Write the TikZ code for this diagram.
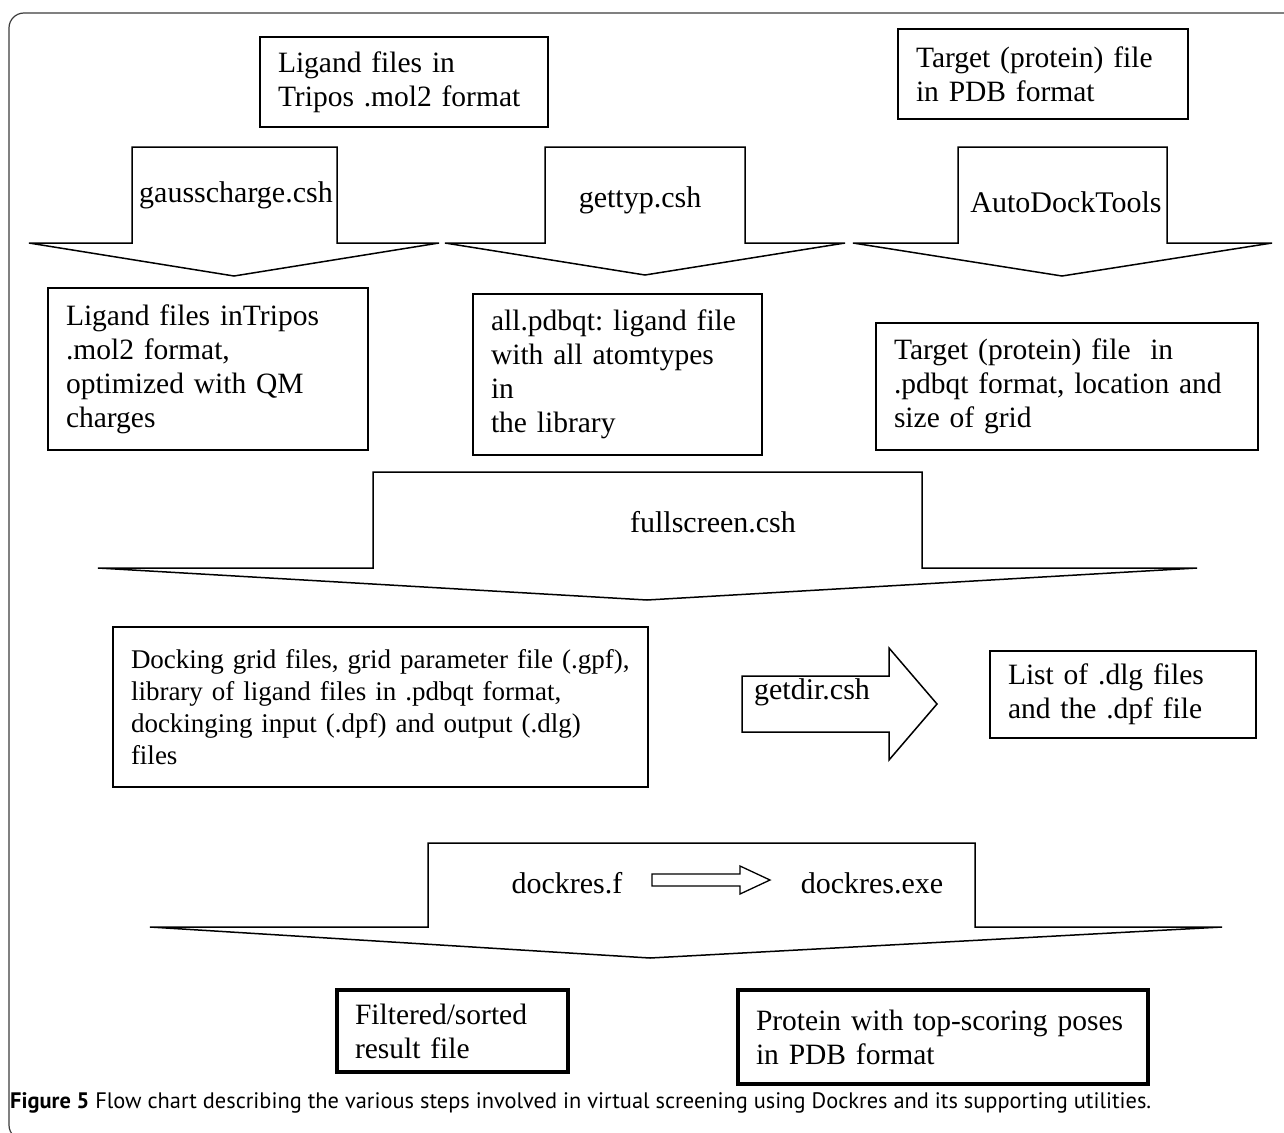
\documentclass[tikz,border=0pt]{standalone}
\usepackage{fontspec}
\usepackage{tikz}
\setmainfont{Liberation Serif}
\newfontfamily\capfont{PT Sans}
\definecolor{frame-gray}{RGB}{60,60,60}
\frenchspacing

\tikzset{
    filebox/.style={draw, line width=1.3pt, align=left, inner xsep=18pt, inner ysep=0pt,
        font=\fontsize{29.5}{34}\selectfont},
    resultbox/.style={filebox, line width=4pt},
    toolname/.style={inner sep=0pt, font=\fontsize{30}{34}\selectfont},
    blockarrow/.style={draw, line width=1.5pt, line join=miter}
}

\begin{document}
\begin{tikzpicture}[x=1pt, y=-1pt]
    \useasboundingbox (0,0) rectangle (1284,1132);
    \draw[rounded corners=15, frame-gray, line width=1.2pt] (9,13) rectangle (1320,1140);

    % input files
    \node[filebox, text width=252pt, minimum height=90] (ligmol) at (404,82)
        {Ligand files in\\Tripos .mol2 format};
    \node[filebox, text width=254pt, minimum height=90] (target) at (1043,74)
        {Target (protein) file\\in PDB format};

    % first stage
    \draw[blockarrow] (132,147) -- (337,147) -- (337,243) -- (439,243) -- (234,276)
        -- (29,243) -- (132,243) -- cycle;
    \draw[blockarrow] (545,147) -- (745,147) -- (745,243) -- (845,243) -- (645,275)
        -- (445,243) -- (545,243) -- cycle;
    \draw[blockarrow] (958,147) -- (1167,147) -- (1167,243) -- (1272,243) -- (1062,276)
        -- (853,243) -- (958,243) -- cycle;
    \node[toolname] (gauss) at (236,195) {gausscharge.csh};
    \node[toolname] (gettyp) at (640,200) {gettyp.csh};
    \node[toolname] (adt) at (1066,202) {AutoDockTools};

    \node[filebox, text width=284pt, minimum height=162] (ligqm) at (208,369)
        {Ligand files inTripos\\.mol2 format,\\optimized with QM\\charges};
    \node[filebox, text width=253pt, minimum height=161] (allpdbqt) at (617.5,374.5)
        {all.pdbqt: ligand file\\with all atomtypes\\in\\the library};
    \node[filebox, text width=346pt, minimum height=127] (targetqt) at (1067,386.5)
        {Target (protein) file \ in\\.pdbqt format, location and\\size of grid};

    % screening
    \draw[blockarrow] (373,472) -- (922,472) -- (922,568) -- (1197,568) -- (647,600)
        -- (98,568) -- (373,568) -- cycle;
    \node[toolname] (fullscr) at (713,522) {fullscreen.csh};

    \node[filebox, text width=499pt, minimum height=160, font=\fontsize{27}{32}\selectfont]
        (docking) at (380.5,707)
        {Docking grid files, grid parameter file (.gpf),\\library of ligand files in .pdbqt format,\\dockinging input (.dpf) and output (.dlg)\\files};

    \draw[blockarrow] (742,676) -- (889,676) -- (889,648) -- (937,704) -- (889,760)
        -- (889,732) -- (742,732) -- cycle;
    \node[toolname] (getdir) at (812,692) {getdir.csh};
    \node[filebox, text width=230pt, minimum height=87] (dlglist) at (1123,694.5)
        {List of .dlg files\\and the .dpf file};

    % analysis
    \draw[blockarrow] (428,843) -- (975,843) -- (975,927) -- (1222,927) -- (650,958)
        -- (150,927) -- (428,927) -- cycle;
    \node[toolname] (dockf) at (567,883) {dockres.f};
    \node[toolname] (dockexe) at (872,883) {dockres.exe};
    \draw[line width=1.3pt] (652,874) -- (740,874) -- (740,866) -- (770,880) -- (740,894)
        -- (740,886) -- (652,886) -- cycle;

    \node[resultbox, text width=195pt, minimum height=82] (filtered) at (452.5,1031)
        {Filtered/sorted\\result file};
    \node[resultbox, text width=374pt, minimum height=94] (poses) at (943,1037)
        {Protein with top-scoring poses\\in PDB format};

    \node[anchor=west, inner sep=0pt, font=\capfont\fontsize{22.4}{25}\selectfont] (caption) at (10,1103)
        {\textbf{Figure 5} Flow chart describing the various steps involved in virtual screening using Dockres and its supporting utilities.};
\end{tikzpicture}
\end{document}
